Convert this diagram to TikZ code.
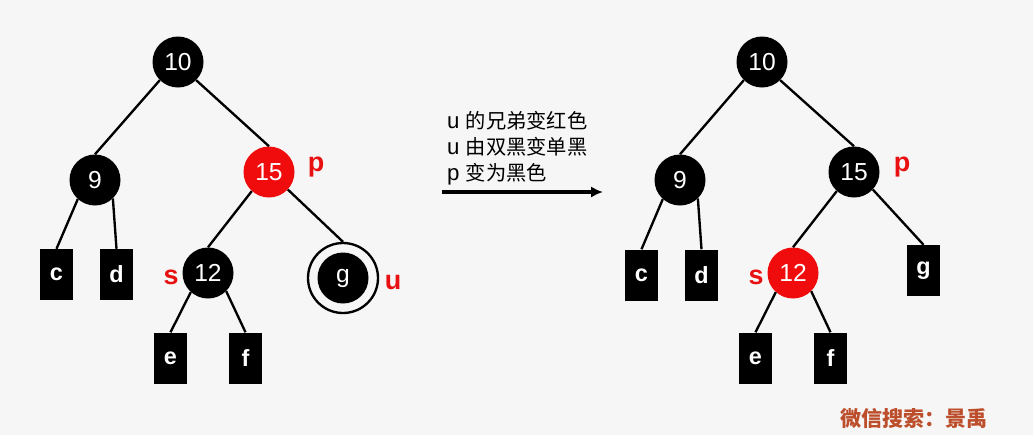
\documentclass[tikz,border=0pt]{standalone}
\usepackage{fontspec}
\setmainfont{Liberation Sans}
\newfontfamily\cjk{Noto Sans CJK SC}[Scale=0.91]
\newfontfamily\wmk{Noto Sans CJK SC}
\usetikzlibrary{arrows.meta}
\definecolor{bggray}{RGB}{246,246,246}
\definecolor{rbred}{RGB}{240,12,12}
\definecolor{tagred}{RGB}{232,16,16}
\definecolor{wmbrown}{RGB}{188,78,44}

\begin{document}
\begin{tikzpicture}[x=0.03cm, y=-0.03cm,
  bn/.style={circle, fill=black, text=white, minimum size=1.53cm, inner sep=0pt,
    font=\fontsize{21}{22}\selectfont},
  rn/.style={bn, fill=rbred},
  leafbox/.style={fill=black, text=white, minimum width=0.99cm, minimum height=1.53cm,
    inner sep=0pt, font=\fontsize{20}{22}\selectfont\bfseries},
  tag/.style={text=tagred, inner sep=0pt, font=\fontsize{23}{24}\selectfont\bfseries},
  link/.style={line width=2pt},
  arr/.style={-{Latex[length=3.6mm, width=3.4mm]}, line width=3pt}
]
\fill[bggray] (0,0) rectangle (1033,435);

\node[bn] (l10) at (178,62) {10};
\node[bn] (l9) at (95,180) {9};
\node[rn] (l15) at (269,172) {15};
\node[bn] (l12) at (208,273) {12};
\node[circle, draw, line width=2pt, minimum size=2.1cm] (lgr) at (343,278) {};
\node[bn] (lg) at (343,278) {g};
\node[leafbox] (lc) at (56.5,274.5) {c};
\node[leafbox] (ld) at (116.5,274.5) {d};
\node[leafbox] (le) at (170.5,358) {e};
\node[leafbox] (lf) at (245.5,358) {f};
\node[tag] (lp) at (316,167) {p};
\node[tag] (ls) at (171,277) {s};
\node[tag] (lu) at (393,283) {u};
\draw[link] (l10.-135) -- (l9.north);
\draw[link] (l10.-45) -- (l15.north);
\draw[link] (l9.-132) -- (lc.north);
\draw[link] (l9.-46) -- (ld.north);
\draw[link] (l15.-132) -- (l12.north);
\draw[link] (l15.-43) -- (lgr.north);
\draw[link] (l12.-132) -- (le.north);
\draw[link] (l12.-45) -- (lf.north);

\node[anchor=west, align=left, inner sep=0pt, font=\fontsize{19}{22}\selectfont] (note) at (447,148)
  {u {\cjk 的兄弟变红色}\\u {\cjk 由双黑变单黑}\\p {\cjk 变为黑色}};
\coordinate (a0) at (442,192);
\coordinate (a1) at (603,192);
\draw[arr] (a0) -- (a1);

\node[bn] (r10) at (762,62) {10};
\node[bn] (r9) at (680,180) {9};
\node[bn] (r15) at (854,172) {15};
\node[rn] (r12) at (793,273) {12};
\node[leafbox] (rc) at (641.5,275) {c};
\node[leafbox] (rd) at (701.5,275) {d};
\node[leafbox] (rg) at (923.5,270.5) {g};
\node[leafbox] (re) at (755.5,358) {e};
\node[leafbox] (rf) at (830.5,358) {f};
\node[tag] (rp) at (902,167) {p};
\node[tag] (rs) at (756,277) {s};
\draw[link] (r10.-135) -- (r9.north);
\draw[link] (r10.-45) -- (r15.north);
\draw[link] (r9.-132) -- (rc.north);
\draw[link] (r9.-46) -- (rd.north);
\draw[link] (r15.-132) -- (r12.north);
\draw[link] (r15.-43) -- (rg.north);
\draw[link] (r12.-132) -- (re.north);
\draw[link] (r12.-45) -- (rf.north);

\node[anchor=west, text=wmbrown, inner sep=0pt, font=\fontsize{18}{20}\wmk\bfseries] (wm) at (840,418)
  {微信搜索：景禹};
\end{tikzpicture}
\end{document}
